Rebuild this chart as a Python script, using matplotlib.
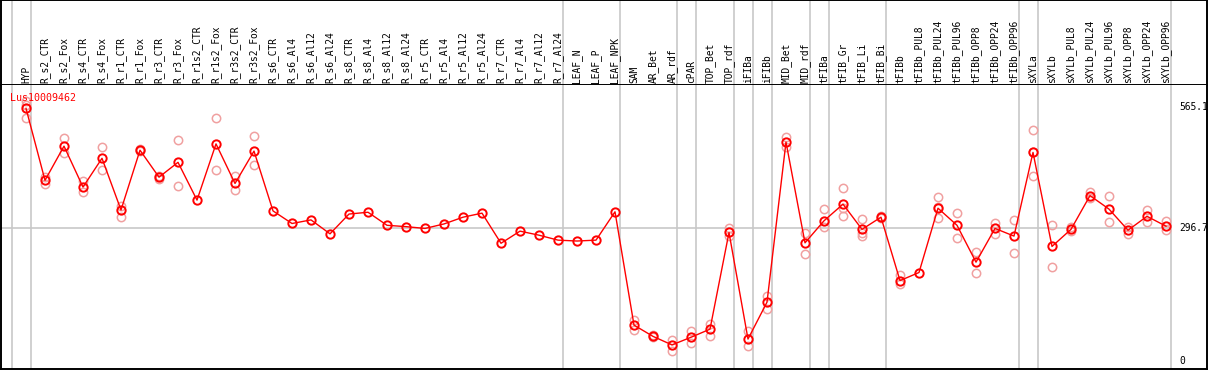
import numpy as np
import matplotlib.pyplot as plt
from matplotlib import transforms

# sample names (x categories)
samples = ['HYP', 'R_s2_CTR', 'R_s2_Fox', 'R_s4_CTR', 'R_s4_Fox', 'R_r1_CTR',
           'R_r1_Fox', 'R_r3_CTR', 'R_r3_Fox', 'R_r1s2_CTR', 'R_r1s2_Fox',
           'R_r3s2_CTR', 'R_r3s2_Fox', 'R_s6_CTR', 'R_s6_Al4', 'R_s6_Al12',
           'R_s6_Al24', 'R_s8_CTR', 'R_s8_Al4', 'R_s8_Al12', 'R_s8_Al24',
           'R_r5_CTR', 'R_r5_Al4', 'R_r5_Al12', 'R_r5_Al24', 'R_r7_CTR',
           'R_r7_Al4', 'R_r7_Al12', 'R_r7_Al24', 'LEAF_N', 'LEAF_P', 'LEAF_NPK',
           'SAM', 'AR_Bet', 'AR_rdf', 'cPAR', 'TOP_Bet', 'TOP_rdf', 'iFIBa',
           'iFIBb', 'MID_Bet', 'MID_rdf', 'tFIBa', 'tFIB_Gr', 'tFIB_Li',
           'tFIB_Bi', 'tFIBb', 'tFIBb_PUL8', 'tFIBb_PUL24', 'tFIBb_PUL96',
           'tFIBb_OPP8', 'tFIBb_OPP24', 'tFIBb_OPP96', 'sXYLa', 'sXYLb',
           'sXYLb_PUL8', 'sXYLb_PUL24', 'sXYLb_PUL96', 'sXYLb_OPP8',
           'sXYLb_OPP24', 'sXYLb_OPP96']

# mean expression per sample
means = [562, 402, 478, 387, 451, 336, 469, 409, 442, 358, 483, 395, 467,
         334, 306, 314, 283, 327, 331, 302, 299, 295, 305, 320, 329,
         262, 289, 280, 269, 267, 269, 332,
         80, 55, 36, 53, 71, 286, 49, 131, 487, 263, 312, 349, 293, 320,
         179, 197, 340, 302, 220, 295, 278, 464, 255,
         293, 368, 338, 291, 322, 300]

# individual replicates per sample
replicates = [[578, 570, 540], [410, 393], [495, 462], [400, 375], [475, 424],
              [346, 321], [471, 467], [411, 404], [492, 390], [], [540, 425],
              [412, 380], [500, 436],
              [], [], [], [], [], [], [], [], [], [], [], [], [], [], [], [],
              [], [], [],
              [91, 69], [57, 53], [47, 22], [66, 40], [82, 56], [297, 279],
              [66, 33], [145, 116], [499, 477], [284, 238], [338, 298],
              [386, 340, 323], [315, 284, 279], [322, 318],
              [191, 171], [], [364, 342, 318], [329, 273], [243, 195],
              [308, 283], [314, 240], [513, 466, 412], [302, 210],
              [298, 289], [377, 362], [367, 309], [298, 283], [336, 309],
              [312, 291]]

# group separators: index of the last sample in each group (-1 = start)
group_ends = [-1, 0, 28, 31, 34, 35, 37, 38, 39, 41, 42, 45, 52, 53, 60]

yticks = [0, 296.7, 565.1]
yticklabels = ['0', '296.7', '565.1']
gene = 'Lus10009462'

W, H = 1209, 370
fig = plt.figure(figsize=(W / 100, H / 100), dpi=100)
font = 'DejaVu Sans Mono'
grid_col = '#c8c8c8'

xlim = ((1 - 26) / 19, (1207 - 26) / 19)
ylim = ((361.1 - 369) / 0.4497, (361.1 - 85) / 0.4497)

head = fig.add_axes([1 / W, (H - 85) / H, 1206 / W, 85 / H])
ax = fig.add_axes([1 / W, 1 / H, 1206 / W, 284 / H])

x = np.arange(len(samples))
sep = np.array(group_ends) + 0.24

for a in (head, ax):
    a.set_xlim(*xlim)
    a.set_xticks([])
    a.set_yticks([])
    for s in a.spines.values():
        s.set_color('black')
        s.set_linewidth(1.4)
    for xs in sep:
        a.axvline(xs, color=grid_col, lw=1.2, zorder=0)

head.set_ylim(0, 1)
ax.set_ylim(*ylim)
ax.spines['top'].set_visible(False)

for i, name in enumerate(samples):
    head.text(i, 0.02, name, rotation=90, ha='center', va='bottom',
              family=font, fontsize=6.9, color='black')

# horizontal reference line at the middle tick
ax.hlines(yticks[1], xlim[0], sep[-1], color=grid_col, lw=1.2, zorder=0)

# replicates
for i, reps in enumerate(replicates):
    if reps:
        ax.plot([i] * len(reps), reps, 'o', ms=6, mfc='none', mec='#f0a0a0',
                mew=1.1, zorder=2)

ax.plot(x, means, '-', color='#ff0000', lw=1.0, zorder=3)
ax.plot(x, means, 'o', ms=6, mfc='none', mec='#ff0000', mew=1.4, zorder=4)

tr = transforms.blended_transform_factory(ax.transAxes, ax.transData)
for v, lab in zip(yticks, yticklabels):
    ax.text((1179 - 1) / 1206, v, lab, transform=tr, ha='left', va='center',
            family=font, fontsize=6.9, color='black')

ax.text(9 / 1206, 0.955, gene, transform=ax.transAxes, ha='left', va='center',
        family=font, fontsize=7.2, color='red')

fig.savefig('out.png', dpi=100)
